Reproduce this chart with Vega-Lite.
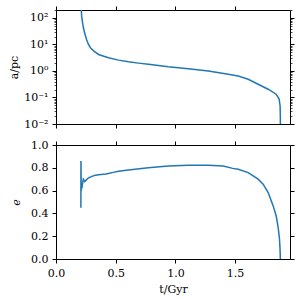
{
  "$schema": "https://vega.github.io/schema/vega-lite/v6.json",
  "padding": {"left": 8, "top": 4, "right": 4, "bottom": 4},
  "bounds": "flush",
  "spacing": 21,
  "config": {
    "view": {"stroke": null},
    "axis": {
      "labelFont": "DejaVu Serif", "titleFont": "DejaVu Serif",
      "labelFontSize": 11, "titleFontSize": 11,
      "labelColor": "black", "titleColor": "black",
      "domainColor": "black", "tickColor": "black",
      "grid": false, "titleFontWeight": "normal",
      "tickSize": 4, "domainWidth": 1, "tickWidth": 1, "labelPadding": 4,
      "labelFlush": false, "labelOverlap": false, "labelBound": false
    }
  },
  "datasets": {
    "a": [
      {"t": 0.2105, "a": 400}, {"t": 0.212, "a": 200}, {"t": 0.215, "a": 115}, {"t": 0.219, "a": 85},
      {"t": 0.223, "a": 64}, {"t": 0.231, "a": 40}, {"t": 0.240, "a": 27}, {"t": 0.256, "a": 15.4},
      {"t": 0.272, "a": 10}, {"t": 0.290, "a": 7.4}, {"t": 0.32, "a": 5.5}, {"t": 0.357, "a": 4.2},
      {"t": 0.40, "a": 3.6}, {"t": 0.44, "a": 3.14}, {"t": 0.524, "a": 2.57}, {"t": 0.607, "a": 2.22},
      {"t": 0.69, "a": 1.98}, {"t": 0.774, "a": 1.78}, {"t": 0.941, "a": 1.445}, {"t": 1.108, "a": 1.22},
      {"t": 1.276, "a": 1.0}, {"t": 1.443, "a": 0.75}, {"t": 1.526, "a": 0.65}, {"t": 1.61, "a": 0.486},
      {"t": 1.693, "a": 0.316}, {"t": 1.777, "a": 0.205}, {"t": 1.844, "a": 0.133}, {"t": 1.869, "a": 0.087},
      {"t": 1.877, "a": 0.049}, {"t": 1.879, "a": 0.02}, {"t": 1.88, "a": 0.005}
    ],
    "e": [
      {"t": 0.2085, "e": 0.45}, {"t": 0.209, "e": 0.86}, {"t": 0.2115, "e": 0.60}, {"t": 0.214, "e": 0.66},
      {"t": 0.217, "e": 0.62}, {"t": 0.222, "e": 0.66}, {"t": 0.229, "e": 0.70}, {"t": 0.24, "e": 0.68},
      {"t": 0.25, "e": 0.69}, {"t": 0.27, "e": 0.71}, {"t": 0.30, "e": 0.725}, {"t": 0.33, "e": 0.735},
      {"t": 0.357, "e": 0.74}, {"t": 0.42, "e": 0.745}, {"t": 0.48, "e": 0.76}, {"t": 0.524, "e": 0.77},
      {"t": 0.607, "e": 0.78}, {"t": 0.774, "e": 0.80}, {"t": 0.941, "e": 0.816}, {"t": 1.108, "e": 0.822},
      {"t": 1.276, "e": 0.822}, {"t": 1.40, "e": 0.816}, {"t": 1.48, "e": 0.795}, {"t": 1.526, "e": 0.787},
      {"t": 1.61, "e": 0.758}, {"t": 1.693, "e": 0.70}, {"t": 1.735, "e": 0.656}, {"t": 1.777, "e": 0.583},
      {"t": 1.819, "e": 0.466}, {"t": 1.844, "e": 0.379}, {"t": 1.861, "e": 0.276}, {"t": 1.872, "e": 0.175},
      {"t": 1.877, "e": 0.08}, {"t": 1.879, "e": 0.0}, {"t": 1.88, "e": -0.05}
    ]
  },
  "vconcat": [
    {
      "width": 234, "height": 114,
      "data": {"name": "a"},
      "layer": [
        {
          "mark": {"type": "line", "color": "#1f77b4", "strokeWidth": 1.5, "clip": true},
          "encoding": {
            "x": {"field": "t", "type": "quantitative",
              "scale": {"domain": [0, 1.96], "nice": false, "zero": false},
              "axis": {"orient": "bottom", "labels": false, "title": null, "values": [0, 0.5, 1, 1.5]}},
            "y": {"field": "a", "type": "quantitative",
              "scale": {"type": "log", "domain": [0.01, 200], "nice": false},
              "axis": {"orient": "left", "title": "a/pc", "titlePadding": 4,
                "values": [0.01,0.02,0.03,0.04,0.05,0.06,0.07,0.08,0.09,0.1,0.2,0.3,0.4,0.5,0.6,0.7,0.8,0.9,1,2,3,4,5,6,7,8,9,10,20,30,40,50,60,70,80,90,100,200],
                "labelExpr": "datum.value==100?'10²':datum.value==10?'10¹':datum.value==1?'10⁰':datum.value==0.1?'10⁻¹':datum.value==0.01?'10⁻²':''",
                "tickSize": {"condition": {"test": "abs(log(datum.value)/LN10 - round(log(datum.value)/LN10)) < 0.000001", "value": 4}, "value": 2},
                "tickWidth": {"condition": {"test": "abs(log(datum.value)/LN10 - round(log(datum.value)/LN10)) < 0.000001", "value": 1}, "value": 0.7}}}
          }
        },
        {
          "mark": {"type": "line", "opacity": 0, "clip": true},
          "encoding": {
            "x": {"field": "t", "type": "quantitative",
              "axis": {"orient": "top", "labels": false, "title": null, "values": [0, 0.5, 1, 1.5]}},
            "y": {"field": "a", "type": "quantitative",
              "axis": {"orient": "right", "labels": false, "title": null,
                "values": [0.01,0.02,0.03,0.04,0.05,0.06,0.07,0.08,0.09,0.1,0.2,0.3,0.4,0.5,0.6,0.7,0.8,0.9,1,2,3,4,5,6,7,8,9,10,20,30,40,50,60,70,80,90,100,200],
                "tickSize": {"condition": {"test": "abs(log(datum.value)/LN10 - round(log(datum.value)/LN10)) < 0.000001", "value": 4}, "value": 2},
                "tickWidth": {"condition": {"test": "abs(log(datum.value)/LN10 - round(log(datum.value)/LN10)) < 0.000001", "value": 1}, "value": 0.7}}}
          }
        }
      ],
      "resolve": {"axis": {"x": "independent", "y": "independent"}}
    },
    {
      "width": 234, "height": 114,
      "data": {"name": "e"},
      "layer": [
        {
          "mark": {"type": "line", "color": "#1f77b4", "strokeWidth": 1.5, "clip": true},
          "encoding": {
            "x": {"field": "t", "type": "quantitative",
              "scale": {"domain": [0, 1.96], "nice": false, "zero": false},
              "axis": {"orient": "bottom", "title": "t/Gyr", "format": ".1f", "values": [0, 0.5, 1, 1.5], "titlePadding": 5}},
            "y": {"field": "e", "type": "quantitative",
              "scale": {"domain": [0, 1], "nice": false},
              "axis": {"orient": "left", "title": "e", "titleFontStyle": "italic", "format": ".1f", "values": [0, 0.2, 0.4, 0.6, 0.8, 1], "titlePadding": 9}}
          }
        },
        {
          "mark": {"type": "line", "opacity": 0, "clip": true},
          "encoding": {
            "x": {"field": "t", "type": "quantitative",
              "axis": {"orient": "top", "labels": false, "title": null, "values": [0, 0.5, 1, 1.5]}},
            "y": {"field": "e", "type": "quantitative",
              "axis": {"orient": "right", "labels": false, "title": null, "values": [0, 0.2, 0.4, 0.6, 0.8, 1]}}
          }
        }
      ],
      "resolve": {"axis": {"x": "independent", "y": "independent"}}
    }
  ]
}
